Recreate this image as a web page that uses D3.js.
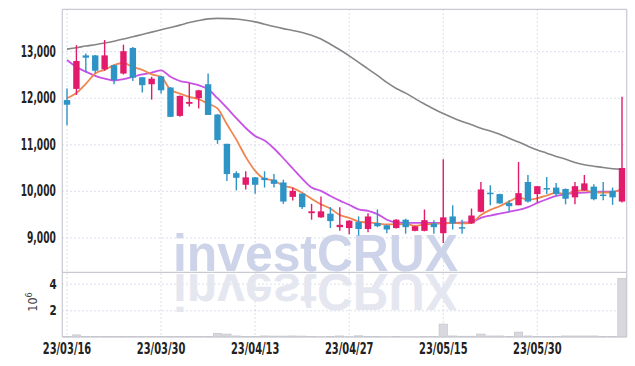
<!DOCTYPE html>
<html><head><meta charset="utf-8">
<script src="https://cdn.jsdelivr.net/npm/d3@7"></script>
<style>
html,body{margin:0;padding:0;background:#fff;}
svg{display:block;}
</style></head>
<body>
<svg id="chart" width="635" height="366"></svg>
<script>
const dates = ["23/03/16","23/03/17","23/03/20","23/03/21","23/03/22","23/03/23","23/03/24","23/03/27","23/03/28","23/03/29",
"23/03/30","23/03/31","23/04/03","23/04/04","23/04/05","23/04/06","23/04/07","23/04/10","23/04/11","23/04/12",
"23/04/13","23/04/14","23/04/17","23/04/18","23/04/19","23/04/20","23/04/21","23/04/24","23/04/25","23/04/26",
"23/04/27","23/04/28","23/05/02","23/05/03","23/05/04","23/05/08","23/05/09","23/05/10","23/05/11","23/05/12",
"23/05/15","23/05/16","23/05/17","23/05/18","23/05/19","23/05/22","23/05/23","23/05/24","23/05/25","23/05/26",
"23/05/30","23/05/31","23/06/01","23/06/02","23/06/05","23/06/07","23/06/08","23/06/09","23/06/12","23/06/13"];
const openP  = [11950,12190,12910,12910,12610,12700,12520,13070,12440,12290,12460,12220,11610,11870,11990,12290,11640,11010,10380,10130,
10290,10280,10240,10180,9870,9940,9520,9430,9510,9220,9200,9330,9180,9310,9260,9200,9380,9140,9140,9300,
9090,9450,9220,9300,9550,9960,9930,9740,9690,10190,9930,10060,10070,10040,9860,10010,10090,9920,10000,9770];
const highP  = [12200,13130,12950,12920,13240,12710,13140,13090,12440,12450,12470,12230,12050,12310,12170,12520,11650,11010,10420,10420,
10300,10420,10360,10240,10070,9950,9720,9880,9650,9650,9370,9450,9520,9600,9270,9390,9400,9240,9600,9370,
10680,9690,9380,9620,10190,10120,9940,9800,10620,10340,10100,10300,10170,10050,10190,10340,10140,10190,10070,12020];
const lowP   = [11410,12060,12540,12530,12580,12290,12500,12360,12110,11960,12090,11590,11590,11810,11770,11630,11010,10210,10010,10030,
9940,10070,10070,9720,9790,9610,9380,9420,9200,9140,9070,9040,9110,9220,9090,9190,9080,9130,9130,9080,
8880,9170,9080,9290,9540,9690,9720,9550,9690,9750,9750,9930,9890,9710,9710,10000,9800,9800,9700,9750];
const closeP = [11850,12790,12860,12580,12910,12380,13000,12430,12270,12410,12160,11590,12040,11910,12160,11630,11090,10360,10280,10290,
10130,10230,10150,9770,10000,9650,9560,9560,9350,9270,9360,9180,9450,9240,9170,9380,9220,9240,9370,9220,
9430,9300,9190,9470,10030,9940,9730,9670,9950,9770,10100,10030,9930,9830,10100,10160,9820,9890,9860,10490];
const maShort = [11990,12100,12300,12520,12600,12700,12750,12660,12600,12500,12450,12170,12090,12020,11970,11870,11770,11430,11100,10730,
10430,10260,10220,10110,10060,9960,9830,9710,9620,9480,9420,9340,9320,9300,9280,9280,9290,9250,9280,9290,
9300,9310,9300,9320,9480,9590,9670,9770,9860,9810,9840,9900,9960,9930,10000,10010,9970,9960,9970,10040];
const maMid = [12810,12660,12560,12470,12410,12370,12400,12450,12500,12540,12590,12450,12360,12320,12270,12180,11990,11780,11560,11350,
11180,11080,10910,10700,10480,10260,10070,10000,9890,9790,9700,9600,9570,9500,9380,9320,9310,9310,9310,9310,
9310,9310,9320,9330,9420,9470,9510,9550,9590,9650,9740,9820,9890,9930,9950,9960,9980,9980,9980,10040];
const maLong = [13045,13075,13110,13140,13175,13215,13260,13310,13360,13410,13460,13510,13560,13615,13660,13695,13705,13700,13690,13665,
13630,13580,13530,13485,13445,13400,13340,13260,13150,13030,12900,12760,12620,12480,12330,12200,12100,11980,11865,11760,
11660,11570,11490,11420,11345,11285,11215,11130,11050,10960,10880,10810,10740,10680,10610,10560,10530,10500,10475,10460];
const volumeM = [0.05,0.16,0.05,0.04,0.05,0.04,0.05,0.04,0.03,0.03,0.03,0.04,0.03,0.03,0.03,0.05,0.28,0.22,0.08,0.04,
0.04,0.08,0.07,0.07,0.08,0.07,0.03,0.02,0.03,0.08,0.02,0.09,0.03,0.03,0.02,0.03,0.02,0.02,0.03,0.03,
0.97,0.08,0.06,0.06,0.22,0.08,0.08,0.05,0.37,0.08,0.05,0.04,0.03,0.08,0.08,0.08,0.08,0.04,0.03,4.4];
const priceTicks = [9000,10000,11000,12000,13000];
const volTicks = [2,4];
const dateTicks = ["23/03/16","23/03/30","23/04/13","23/04/27","23/05/15","23/05/30"];
const watermark = "investCRUX";

const svg = d3.select("#chart");
const L = 62.3, R = 626.7, T = 9.3, MID = 272.3, B = 337;
const labelFont = "'Liberation Sans Narrow','DejaVu Sans Condensed','DejaVu Sans',sans-serif";

const x = d3.scaleBand().domain(dates).range([L, R]).padding(0);
const step = x.bandwidth();
const cx = d => x(d) + step / 2;
const y = d3.scaleLinear().domain([8250, 13900]).range([MID, T]);
const yv = d3.scaleLinear().domain([0, 4.85]).range([B, MID]);

const gridColor = "#c9cde0";
svg.append("g").attr("transform", `translate(${L},0)`)
  .call(d3.axisLeft(y).tickValues(priceTicks).tickSize(-(R - L)).tickFormat(""))
  .call(g => g.select(".domain").remove())
  .call(g => g.selectAll("line").attr("stroke", gridColor).attr("stroke-dasharray", "1.3,2.7"));
svg.append("g").attr("transform", `translate(${L},0)`)
  .call(d3.axisLeft(yv).tickValues(volTicks).tickSize(-(R - L)).tickFormat(""))
  .call(g => g.select(".domain").remove())
  .call(g => g.selectAll("line").attr("stroke", gridColor).attr("stroke-dasharray", "1.3,2.7"));
svg.append("g").selectAll("line").data(dateTicks).join("line")
  .attr("x1", d => cx(d)).attr("x2", d => cx(d)).attr("y1", T).attr("y2", B)
  .attr("stroke", gridColor).attr("stroke-dasharray", "1.3,2.7");

// watermark + reflection
const defs = svg.append("defs");
defs.append("clipPath").attr("id", "volclip").append("rect")
  .attr("x", L).attr("y", MID + 1.5).attr("width", R - L).attr("height", B - MID - 1.5);
const wmBase = 271;
svg.append("text").text(watermark)
  .attr("x", 173).attr("y", wmBase)
  .attr("textLength", 285).attr("lengthAdjust", "spacingAndGlyphs")
  .attr("font-family", "'Liberation Sans',Arial,sans-serif").attr("font-weight", "bold")
  .attr("font-size", 52).attr("fill", "#cdd3e8");
svg.append("g").attr("clip-path", "url(#volclip)")
  .append("text").text(watermark)
  .attr("x", 173).attr("y", wmBase)
  .attr("transform", `translate(0,${2 * wmBase + 3}) scale(1,-1)`)
  .attr("textLength", 285).attr("lengthAdjust", "spacingAndGlyphs")
  .attr("font-family", "'Liberation Sans',Arial,sans-serif").attr("font-weight", "bold")
  .attr("font-size", 52).attr("fill", "#e5e7f0");

// volume bars
svg.append("g").selectAll("rect").data(dates).join("rect")
  .attr("x", d => x(d) + 0.5).attr("width", step - 1)
  .attr("y", (d, i) => yv(volumeM[i])).attr("height", (d, i) => B - yv(volumeM[i]))
  .attr("fill", "#d8d8de").attr("stroke", "#c0c0c8").attr("stroke-width", 0.6);

// moving averages
const lineGen = arr => d3.line().x((d, i) => cx(dates[i])).y(d => y(d)).curve(d3.curveMonotoneX)(arr);
svg.append("path").attr("d", lineGen(maLong)).attr("fill", "none").attr("stroke", "#858585").attr("stroke-width", 1.6);
svg.append("path").attr("d", lineGen(maMid)).attr("fill", "none").attr("stroke", "#c852e6").attr("stroke-width", 1.8);
svg.append("path").attr("d", lineGen(maShort)).attr("fill", "none").attr("stroke", "#ef8550").attr("stroke-width", 1.8);

// candles
const up = "#e31b6d", down = "#2e94c6";
const cw = 6.4;
const cg = svg.append("g").selectAll("g").data(dates).join("g");
cg.append("line")
  .attr("x1", d => cx(d)).attr("x2", d => cx(d))
  .attr("y1", (d, i) => y(highP[i])).attr("y2", (d, i) => y(lowP[i]))
  .attr("stroke", (d, i) => closeP[i] >= openP[i] ? up : down).attr("stroke-width", 1.4);
cg.append("rect")
  .attr("x", d => cx(d) - cw / 2).attr("width", cw)
  .attr("y", (d, i) => y(Math.max(openP[i], closeP[i])))
  .attr("height", (d, i) => Math.max(1.5, Math.abs(y(openP[i]) - y(closeP[i]))))
  .attr("fill", (d, i) => closeP[i] >= openP[i] ? up : down);

// frame
const frameColor = "#c8c9d2";
[[L, L, T, B], [R, R, T, B], [L, R, T, T], [L, R, MID, MID], [L, R, B, B]].forEach(([x1, x2, y1, y2]) =>
  svg.append("line").attr("x1", x1).attr("x2", x2).attr("y1", y1).attr("y2", y2)
    .attr("stroke", frameColor).attr("stroke-width", 1.2));

// label width fitting (condensed look)
const fitWidth = (sel, fn) => sel.each(function (d) {
  const w = fn(this.textContent);
  d3.select(this).attr("textLength", w).attr("lengthAdjust", "spacingAndGlyphs");
});
const numWidth = s => s.replace(/[^0-9]/g, "").length * 6.2 + (s.match(/[,]/g) || []).length * 4;

svg.append("g").attr("transform", `translate(${L - 6.5},0)`)
  .call(d3.axisLeft(y).tickValues(priceTicks).tickSize(0).tickPadding(0).tickFormat(d3.format(",")))
  .call(g => g.select(".domain").remove())
  .call(g => fitWidth(g.selectAll("text").attr("font-family", labelFont).attr("font-weight", "bold")
      .attr("font-size", 15).attr("fill", "#222"), numWidth));
svg.append("g").attr("transform", `translate(${L - 5.5},0)`)
  .call(d3.axisLeft(yv).tickValues(volTicks).tickSize(0).tickPadding(0).tickFormat(d3.format("d")))
  .call(g => g.select(".domain").remove())
  .call(g => fitWidth(g.selectAll("text").attr("font-family", labelFont).attr("font-weight", "bold")
      .attr("font-size", 14).attr("fill", "#222"), s => 7.2));
svg.append("g").attr("transform", `translate(0,${B})`)
  .call(d3.axisBottom(x).tickValues(dateTicks).tickSize(0).tickPadding(6))
  .call(g => g.select(".domain").remove())
  .call(g => fitWidth(g.selectAll("text").attr("font-family", labelFont).attr("font-weight", "bold")
      .attr("font-size", 15).attr("fill", "#222"), s => 48.5));

// 10^6 unit label
const unit = svg.append("text").attr("transform", "translate(36.5,302) rotate(-90)")
  .attr("text-anchor", "middle").attr("font-family", labelFont).attr("font-size", 12.5).attr("fill", "#444");
unit.append("tspan").text("10");
unit.append("tspan").text("6").attr("dy", -5).attr("font-size", 9);
</script>
</body></html>
